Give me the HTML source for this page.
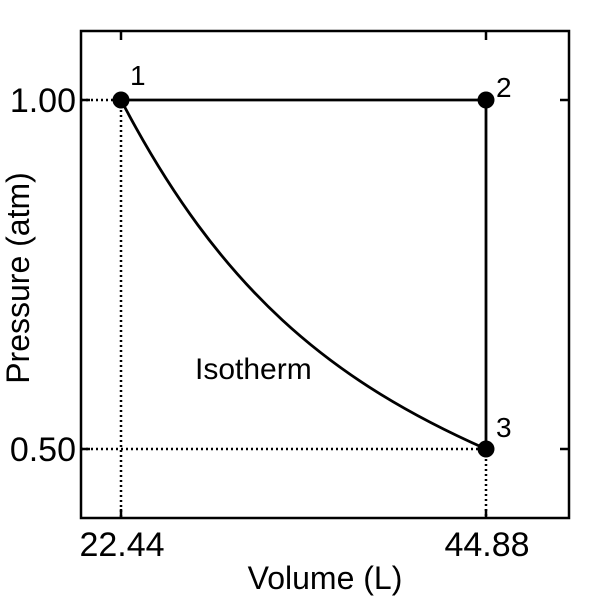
<!DOCTYPE html>
<html><head><style>body{margin:0;background:#fff}</style></head><body>
<svg width="600" height="600" xmlns="http://www.w3.org/2000/svg" style="font-family:'Liberation Sans',sans-serif">
<rect width="600" height="600" fill="#fff"/>
<rect x="81" y="31" width="488" height="487" fill="none" stroke="#000" stroke-width="2.5"/>
<g stroke="#000" stroke-width="2.5">
<line x1="121" y1="31" x2="121" y2="40"/><line x1="486" y1="31" x2="486" y2="40"/>
<line x1="121" y1="518" x2="121" y2="509"/><line x1="486" y1="518" x2="486" y2="509"/>
<line x1="81" y1="100" x2="90" y2="100"/><line x1="81" y1="449" x2="90" y2="449"/>
<line x1="569" y1="100" x2="560" y2="100"/><line x1="569" y1="449" x2="560" y2="449"/>
</g>
<g stroke="#000" stroke-width="2.5" stroke-dasharray="2,3">
<line x1="81" y1="100" x2="121" y2="100"/><line x1="121" y1="100" x2="121" y2="518"/>
<line x1="81" y1="449" x2="486" y2="449"/><line x1="486" y1="449" x2="486" y2="518"/>
</g>
<g stroke="#000" stroke-width="2.8" fill="none">
<line x1="121" y1="100" x2="486" y2="100"/><line x1="486" y1="100" x2="486" y2="449"/>
<path d="M121,100 C220,290 330,380 486,449"/>
</g>
<circle cx="121" cy="100" r="8.5"/><circle cx="486" cy="100" r="8.5"/><circle cx="486" cy="449" r="8.5"/>
<g fill="#000">
<text x="130" y="85" style="font-size:28px">1</text>
<text x="496" y="97" style="font-size:28px">2</text>
<text x="496" y="437" style="font-size:28px">3</text>
<text x="195" y="379" style="font-size:30px">Isotherm</text>
<text x="76" y="112" text-anchor="end" style="font-size:34px">1.00</text>
<text x="76" y="461" text-anchor="end" style="font-size:34px">0.50</text>
<text x="122" y="556" text-anchor="middle" style="font-size:34px">22.44</text>
<text x="487" y="556" text-anchor="middle" style="font-size:34px">44.88</text>
<text x="325" y="589" text-anchor="middle" style="font-size:32px">Volume (L)</text>
<text transform="translate(29,278) rotate(-90)" text-anchor="middle" style="font-size:32px">Pressure (atm)</text>
</g>
</svg>
</body></html>
